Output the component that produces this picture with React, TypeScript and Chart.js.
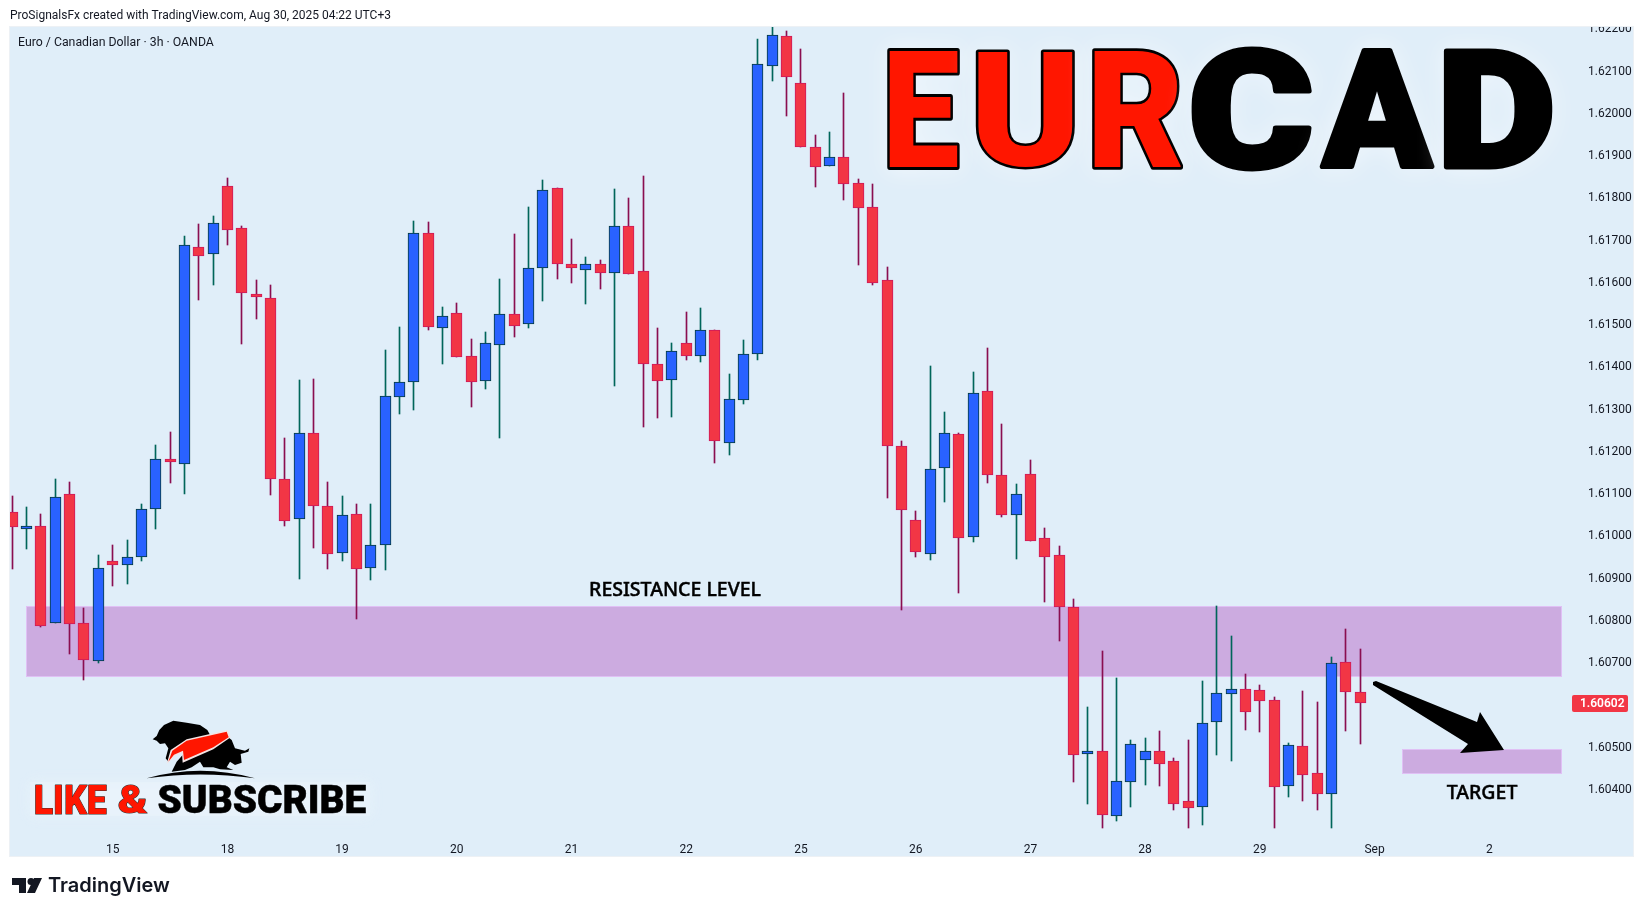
import React, { useEffect, useRef } from "react";
import { Chart, registerables } from "chart.js";

Chart.register(...registerables);

const opens = [1.61053,1.61019,1.61020,1.60792,1.61096,1.60790,1.60702,1.60937,1.60929,1.60948,1.61060,1.61179,1.61168,1.61680,1.61664,1.61825,1.61725,1.61571,1.61560,1.61131,1.61038,1.61240,1.61067,1.60957,1.61048,1.60922,1.60976,1.61327,1.61361,1.61714,1.61490,1.61524,1.61422,1.61365,1.61450,1.61522,1.61500,1.61631,1.61820,1.61640,1.61627,1.61642,1.61620,1.61730,1.61624,1.61403,1.61367,1.61453,1.61424,1.61484,1.61218,1.61320,1.61427,1.62110,1.62180,1.62069,1.61917,1.61873,1.61893,1.61832,1.61775,1.61602,1.61209,1.61034,1.60954,1.61157,1.61238,1.60995,1.61340,1.61141,1.61047,1.61143,1.60992,1.60951,1.60828,1.60482,1.60487,1.60335,1.60415,1.60467,1.60487,1.60464,1.60369,1.60356,1.60557,1.60624,1.60634,1.60632,1.60610,1.60406,1.60499,1.60435,1.60387,1.60698,1.60628];
const highs = [1.61092,1.61066,1.61049,1.61132,1.61125,1.60827,1.60952,1.60976,1.60988,1.61073,1.61212,1.61243,1.61707,1.61736,1.61754,1.61844,1.61731,1.61603,1.61591,1.61229,1.61366,1.61369,1.61125,1.61092,1.61073,1.61073,1.61437,1.61492,1.61743,1.61740,1.61539,1.61549,1.61463,1.61480,1.61605,1.61712,1.61776,1.61840,1.61821,1.61700,1.61657,1.61650,1.61818,1.61797,1.61849,1.61489,1.61454,1.61527,1.61537,1.61485,1.61380,1.61461,1.62173,1.62204,1.62192,1.62150,1.61946,1.61953,1.62046,1.61842,1.61830,1.61634,1.61222,1.61056,1.61399,1.61291,1.61241,1.61385,1.61442,1.61262,1.61120,1.61177,1.61016,1.60973,1.60848,1.60592,1.60725,1.60661,1.60514,1.60519,1.60535,1.60472,1.60514,1.60654,1.60831,1.60760,1.60670,1.60644,1.60616,1.60507,1.60630,1.60604,1.60711,1.60777,1.60730];
const lows = [1.60920,1.60967,1.60782,1.60792,1.60718,1.60656,1.60697,1.60879,1.60884,1.60939,1.61014,1.61123,1.61097,1.61556,1.61590,1.61686,1.61452,1.61511,1.61095,1.61021,1.60896,1.60969,1.60920,1.60939,1.60801,1.60894,1.60917,1.61286,1.61296,1.61485,1.61405,1.61421,1.61303,1.61346,1.61230,1.61469,1.61490,1.61554,1.61606,1.61597,1.61545,1.61582,1.61353,1.61618,1.61256,1.61277,1.61279,1.61414,1.61410,1.61170,1.61189,1.61310,1.61414,1.62075,1.61992,1.61918,1.61824,1.61873,1.61793,1.61639,1.61590,1.61088,1.60823,1.60948,1.60941,1.61078,1.60863,1.60984,1.61123,1.61043,1.60943,1.60986,1.60841,1.60749,1.60415,1.60363,1.60307,1.60323,1.60356,1.60408,1.60406,1.60349,1.60307,1.60314,1.60479,1.60465,1.60539,1.60534,1.60307,1.60380,1.60370,1.60349,1.60307,1.60536,1.60505];
const closes = [1.61019,1.61021,1.60785,1.61089,1.60789,1.60704,1.60921,1.60929,1.60947,1.61060,1.61179,1.61173,1.61685,1.61660,1.61737,1.61722,1.61573,1.61566,1.61133,1.61033,1.61240,1.61069,1.60955,1.61046,1.60920,1.60975,1.61328,1.61361,1.61714,1.61492,1.61517,1.61421,1.61362,1.61453,1.61522,1.61495,1.61631,1.61815,1.61642,1.61632,1.61640,1.61620,1.61730,1.61618,1.61405,1.61365,1.61434,1.61424,1.61484,1.61223,1.61321,1.61427,1.62114,1.62182,1.62084,1.61918,1.61871,1.61893,1.61831,1.61774,1.61597,1.61211,1.61059,1.60960,1.61155,1.61242,1.60993,1.61335,1.61142,1.61047,1.61096,1.60986,1.60948,1.60830,1.60479,1.60487,1.60337,1.60416,1.60504,1.60487,1.60458,1.60363,1.60354,1.60554,1.60625,1.60636,1.60581,1.60607,1.60404,1.60502,1.60432,1.60387,1.60696,1.60628,1.60602];

const priceTicks = [1.622,1.621,1.62,1.619,1.618,1.617,1.616,1.615,1.614,1.613,1.612,1.611,1.61,1.609,1.608,1.607,1.605,1.604];
const dayTickIndex = [7,15,23,31,39,47,55,63,71,79,87,95,103];
const dayTickLabels = ["15","18","19","20","21","22","25","26","27","28","29","Sep","2"];
const lastPrice = 1.60602;
const resistanceZone = [1.60664, 1.60831];
const resistanceSpan = [0.95, 108.06];
const targetZone = [1.60433, 1.60494];
const targetSpan = [96.9, 108.06];

const UP = "#2962FF", DOWN = "#F23645";
const UP_EDGE = "#033B3B", DOWN_EDGE = "#CE1A5B";
const UP_WICK = "#00665A", DOWN_WICK = "#8A0E50";
const PANE = "#E0EEF9";
const TEXT = "#131722";
const UI_FONT = "Roboto, sans-serif";
const HEAVY = "900 150px Roboto, sans-serif";

type Ctx = CanvasRenderingContext2D;

function fit(ctx: Ctx, text: string, font: string, x0: number, y0: number, x1: number, y1: number, fill: string, stroke: string, lw: number) {
  ctx.save();
  ctx.font = font;
  ctx.textAlign = "left";
  ctx.textBaseline = "alphabetic";
  const m = ctx.measureText(text);
  const w = m.actualBoundingBoxRight + m.actualBoundingBoxLeft;
  const h = m.actualBoundingBoxAscent + m.actualBoundingBoxDescent;
  const sx = (x1 - x0 - lw) / w, sy = (y1 - y0 - lw) / h;
  ctx.translate(x0 + lw / 2, y0 + lw / 2);
  ctx.scale(sx, sy);
  ctx.translate(m.actualBoundingBoxLeft, m.actualBoundingBoxAscent);
  if (lw > 0) {
    ctx.lineWidth = lw / Math.min(sx, sy);
    ctx.lineJoin = "round";
    ctx.strokeStyle = stroke;
    ctx.strokeText(text, 0, 0);
  }
  ctx.shadowColor = "transparent";
  ctx.fillStyle = fill;
  ctx.fillText(text, 0, 0);
  ctx.restore();
}

function poly(ctx: Ctx, pts: number[][], fill: string, ox = 0, oy = 0, k = 1) {
  ctx.beginPath();
  pts.forEach(([x, y], i) => (i ? ctx.lineTo(ox + x * k, oy + y * k) : ctx.moveTo(ox + x * k, oy + y * k)));
  ctx.closePath();
  ctx.fillStyle = fill;
  ctx.fill();
}

function drawLogo(ctx: Ctx) {
  const bear = [[458,178],[470,168],[478,150],[492,135],[520,122],[560,128],[600,135],[622,150],[632,168],[600,182],[560,195],[530,210],[512,225],[505,245],[497,235],[505,205],[495,190],[480,192],[470,182]];
  const bull = [[632,165],[670,160],[695,180],[705,205],[735,212],[748,205],[745,215],[722,222],[725,248],[705,255],[690,245],[680,262],[700,270],[660,268],[640,262],[610,262],[600,245],[575,262],[555,270],[515,275],[530,245],[548,225],[600,190]];
  const swooshEdge = [[500,252],[512,210],[560,178],[640,160],[682,150],[692,172],[640,208],[548,248],[546,218],[525,228]];
  const swoosh = [[505,245],[517,212],[560,182],[640,164],[680,155],[686,172],[640,202],[552,240],[549,212],[522,224]];
  poly(ctx, bull, "#000", 0, 680, 1 / 3);
  poly(ctx, bear, "#000", 0, 680, 1 / 3);
  poly(ctx, swooshEdge, "#F4E4E4", 0, 680, 1 / 3);
  poly(ctx, swoosh, "#FF1600", 0, 680, 1 / 3);
  ctx.beginPath();
  ctx.moveTo(440 / 3, 680 + 295 / 3);
  ctx.quadraticCurveTo(600 / 3, 680 + 250 / 3, 765 / 3, 680 + 295 / 3);
  ctx.quadraticCurveTo(600 / 3, 680 + 272 / 3, 440 / 3, 680 + 295 / 3);
  ctx.fillStyle = "#000";
  ctx.fill();
}

function drawTvLogo(ctx: Ctx) {
  ctx.fillStyle = "#131722";
  ctx.beginPath();
  ctx.moveTo(12, 878); ctx.lineTo(26, 878); ctx.lineTo(26, 893); ctx.lineTo(19, 893); ctx.lineTo(19, 885); ctx.lineTo(12, 885);
  ctx.closePath();
  ctx.fill();
  ctx.beginPath();
  ctx.arc(31, 881.5, 3.5, 0, Math.PI * 2);
  ctx.fill();
  ctx.beginPath();
  ctx.moveTo(34, 878); ctx.lineTo(42, 878); ctx.lineTo(35, 893); ctx.lineTo(27, 893);
  ctx.closePath();
  ctx.fill();
}

const chartDecor = {
  id: "chartDecor",
  afterDatasetsUpdate(chart: any) {
    const xs = chart.scales.x;
    chart.data.datasets.forEach((ds: any, di: number) => {
      const w = ds.barThickness;
      chart.getDatasetMeta(di).data.forEach((el: any, i: number) => {
        const top = Math.round(Math.min(el.y, el.base));
        let bot = Math.round(Math.max(el.y, el.base));
        if (bot - top < (w > 1 ? 3 : 1)) bot = top + (w > 1 ? 3 : 1);
        el.x = Math.floor(xs.getPixelForValue(ds.data[i].x)) + 0.5;
        el.width = w;
        el.y = top;
        el.base = bot;
        el.height = bot - top;
      });
    });
  },
  beforeDraw(chart: any) {
    const ctx: Ctx = chart.ctx;
    ctx.save();
    ctx.fillStyle = "#FFFFFF";
    ctx.fillRect(0, 0, 1643, 916);
    ctx.fillStyle = PANE;
    ctx.fillRect(10, 27, 1623, 829);
    ctx.strokeStyle = "#EDF1F5";
    ctx.strokeRect(9.5, 26.5, 1624, 830);
    ctx.restore();
  },
  beforeDatasetsDraw(chart: any) {
    const ctx: Ctx = chart.ctx;
    const { x, y } = chart.scales;
    const zone = (span: number[], z: number[]) => {
      const l = Math.round(x.getPixelForValue(span[0]));
      const r = Math.round(x.getPixelForValue(span[1]));
      const t = Math.round(y.getPixelForValue(z[1]));
      const b = Math.round(y.getPixelForValue(z[0]));
      ctx.fillStyle = "#CCABE0";
      ctx.fillRect(l, t, r - l, b - t);
      ctx.strokeStyle = "#E0C0F5";
      ctx.strokeRect(l + 0.5, t + 0.5, r - l - 1, b - t - 1);
    };
    ctx.save();
    zone(resistanceSpan, resistanceZone);
    zone(targetSpan, targetZone);
    ctx.restore();
  },
  afterDraw(chart: any) {
    const ctx: Ctx = chart.ctx;
    const yScale = chart.scales.y;
    ctx.save();

    // zone captions
    ctx.fillStyle = "#000";
    ctx.strokeStyle = "#000";
    ctx.lineWidth = 0.45;
    ctx.textBaseline = "middle";
    ctx.textAlign = "center";
    ctx.font = '500 19.5px "Noto Sans", sans-serif';
    ctx.fillText("RESISTANCE LEVEL", 675, 590);
    ctx.strokeText("RESISTANCE LEVEL", 675, 590);
    ctx.fillText("TARGET", 1482, 793);
    ctx.strokeText("TARGET", 1482, 793);

    // arrow
    poly(ctx, [[1373,682],[1376,681],[1477,722],[1480,712],[1504,750],[1460,753],[1468,744],[1373,685]], "#000");

    // title block
    ctx.save();
    ctx.shadowColor = "rgba(255,255,255,0.9)";
    ctx.shadowBlur = 22;
    const big: [string, number, number, string][] = [
      ["E", 887, 960, "#FF1600"], ["U", 975, 1075, "#FF1600"], ["R", 1092, 1184, "#FF1600"],
      ["C", 1192, 1312, "#000"], ["A", 1319, 1435, "#000"], ["D", 1444, 1552, "#000"],
    ];
    big.forEach(([c, a, b, col]) => {
      const round = c === "C";
      fit(ctx, c, HEAVY, a, round ? 46 : 48, b, round ? 171 : 169, col, "#000", 5);
    });
    ctx.restore();

    // like & subscribe
    ctx.save();
    ctx.shadowColor = "rgba(240,248,253,0.9)";
    ctx.shadowBlur = 14;
    ctx.fillStyle = "rgba(235,244,251,0.5)";
    ctx.fillRect(30, 782, 340, 34);
    ctx.restore();
    fit(ctx, "LIKE", '900 60px Roboto, sans-serif', 35, 785, 107, 814, "#FF1600", "#333", 1);
    fit(ctx, "&", '900 60px Roboto, sans-serif', 118, 785, 148, 814, "#FF1600", "#333", 1);
    fit(ctx, "SUBSCRIBE", '900 60px Roboto, sans-serif', 158, 785, 366, 814, "#000", "#000", 0.5);
    drawLogo(ctx);

    // last price tag
    const py = Math.round(yScale.getPixelForValue(lastPrice));
    ctx.fillStyle = DOWN;
    ctx.beginPath();
    ctx.roundRect(1572, py - 8, 56, 17, 2);
    ctx.fill();
    ctx.fillStyle = "#FFFFFF";
    ctx.textAlign = "left";
    ctx.font = "600 12px Roboto, sans-serif";
    ctx.fillText(lastPrice.toFixed(5), 1580, py + 1);

    // header strip
    ctx.fillStyle = "#FFFFFF";
    ctx.fillRect(0, 0, 1643, 26);
    ctx.fillStyle = "#EDF1F5";
    ctx.fillRect(10, 26, 1623, 1);
    ctx.fillStyle = TEXT;
    ctx.font = `12px ${UI_FONT}`;
    ctx.fillText("ProSignalsFx created with TradingView.com, Aug 30, 2025 04:22 UTC+3", 10, 15.5);
    ctx.font = `12.3px ${UI_FONT}`;
    ctx.fillText("Euro / Canadian Dollar · 3h · OANDA", 18, 42.5);

    // footer brand
    drawTvLogo(ctx);
    ctx.fillStyle = "#131722";
    ctx.font = '600 20px Inter, sans-serif';
    ctx.fillText("TradingView", 48, 886);
    ctx.restore();
  },
};

export default function App() {
  const ref = useRef<HTMLCanvasElement>(null);
  useEffect(() => {
    const isUp = closes.map((c, i) => c >= opens[i]);
    const chart = new Chart(ref.current as HTMLCanvasElement, {
      type: "bar",
      data: {
        datasets: [
          {
            label: "Body",
            data: opens.map((o, i) => ({ x: i, y: [o, closes[i]] })),
            backgroundColor: isUp.map((u) => (u ? UP : DOWN)),
            borderColor: isUp.map((u) => (u ? UP_EDGE : DOWN_EDGE)),
            borderWidth: 1,
            borderSkipped: false,
            barThickness: 11,
            grouped: false,
          },
          {
            label: "Wick",
            data: lows.map((l, i) => ({ x: i, y: [l, highs[i]] })),
            backgroundColor: isUp.map((u) => (u ? UP_WICK : DOWN_WICK)),
            borderWidth: 0,
            barThickness: 1,
            grouped: false,
          },
        ] as any,
      },
      options: {
        responsive: false,
        animation: false,
        devicePixelRatio: 1,
        layout: { padding: { left: 10, top: 27, right: 10, bottom: 60 } },
        plugins: { legend: { display: false }, tooltip: { enabled: false } },
        scales: {
          x: {
            type: "linear",
            offset: false,
            min: -0.16,
            max: 108.63,
            grid: { display: false },
            border: { display: false },
            afterFit: (s: any) => { s.height = 26; },
            afterBuildTicks: (s: any) => { s.ticks = dayTickIndex.map((value) => ({ value })); },
            ticks: {
              autoSkip: false,
              maxRotation: 0,
              padding: 5,
              color: TEXT,
              font: { family: "Roboto, sans-serif", size: 12 },
              callback: (v: any) => dayTickLabels[dayTickIndex.indexOf(Number(v))] ?? "",
            },
          },
          y: {
            type: "linear",
            position: "right",
            min: 1.603012,
            max: 1.622018,
            grid: { display: false },
            border: { display: false },
            afterFit: (s: any) => { s.width = 63; },
            afterBuildTicks: (s: any) => { s.ticks = priceTicks.map((value) => ({ value })); },
            ticks: {
              autoSkip: false,
              padding: 10,
              labelOffset: 1.5,
              color: TEXT,
              font: { family: "Roboto, sans-serif", size: 12 },
              callback: (v: any) => Number(v).toFixed(5),
            },
          },
        },
      } as any,
      plugins: [chartDecor],
    });
    return () => chart.destroy();
  }, []);
  return (
    <div style={{ position: "absolute", left: 0, top: 0, width: 1643, height: 916, overflow: "hidden", background: "#fff" }}>
      <canvas ref={ref} width={1643} height={916} style={{ display: "block" }} />
    </div>
  );
}
